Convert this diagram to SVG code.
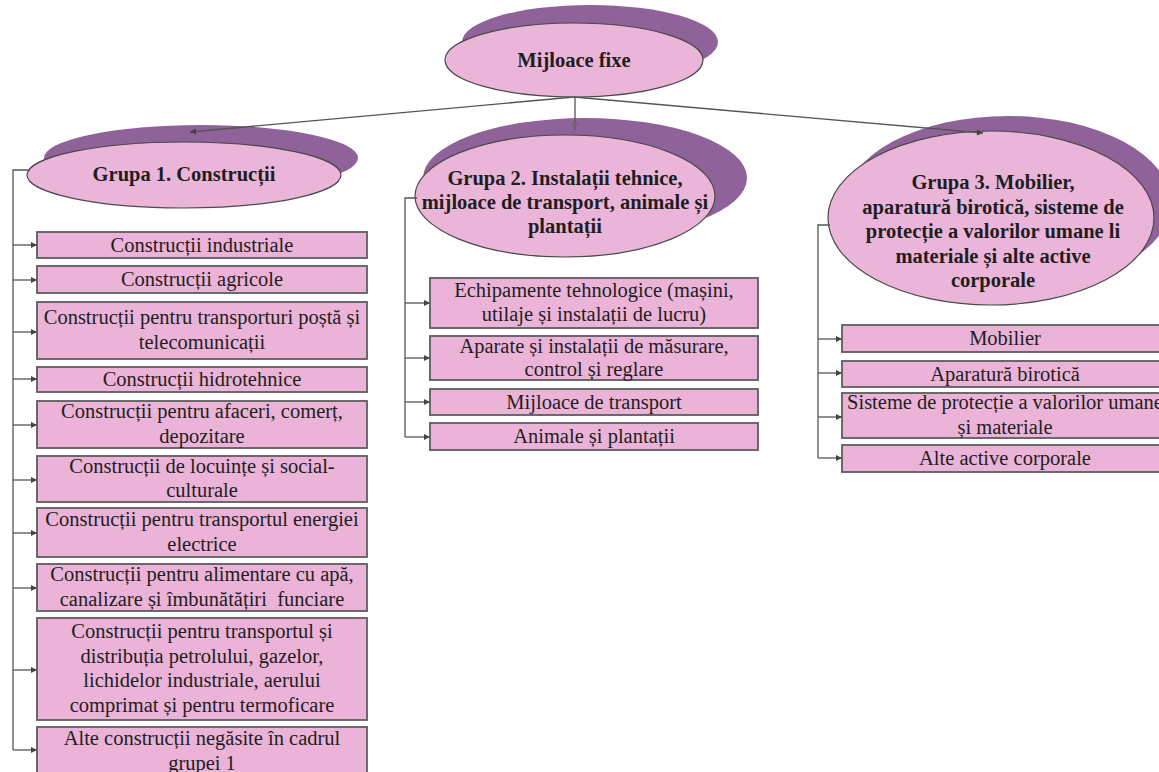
<svg xmlns="http://www.w3.org/2000/svg" width="1159" height="772" viewBox="0 0 1159 772">
<defs>
<style>
.shadow{fill:#8f6399}
.ell{fill:#ebb5d9;stroke:#4a4a4a;stroke-width:1.2}
.box{fill:#eab3d7;stroke:#5c5c5c;stroke-width:1.8}
.t{font-family:"Liberation Serif","Times New Roman",serif;font-size:20.5px;fill:#1e1e1e;text-anchor:middle}
.b{font-weight:bold}
.c{fill:none;stroke:#555;stroke-width:1.3}
</style>
<marker id="ah" viewBox="0 0 10 10" refX="10" refY="5" markerWidth="8" markerHeight="6" orient="auto" markerUnits="userSpaceOnUse"><path d="M0,0 L10,5 L0,10 z" fill="#444"/></marker>
<marker id="ahp" viewBox="0 0 10 10" refX="10" refY="5" markerWidth="8" markerHeight="7" orient="auto" markerUnits="userSpaceOnUse"><path d="M0,0 L10,5 L0,10 z" fill="#7a5a82"/></marker>
</defs>
<rect width="1159" height="772" fill="#ffffff"/>

<g id="root">
<ellipse class="shadow" cx="590" cy="42" rx="128" ry="37"/>
<ellipse class="ell" cx="574" cy="60" rx="129" ry="37"/>
<text class="t b" x="574" y="67">Mijloace fixe</text>
</g>

<g id="grupa1">
<ellipse class="shadow" cx="201" cy="158" rx="157" ry="33"/>
<ellipse class="ell" cx="184" cy="175" rx="157" ry="33"/>
<text class="t b" x="184" y="181">Grupa 1. Construcții</text>
</g>

<g id="grupa2">
<ellipse class="shadow" cx="585" cy="178" rx="162" ry="60"/>
<ellipse class="ell" cx="565" cy="196" rx="150" ry="61"/>
<text class="t b" x="565" y="185">Grupa 2. Instalații tehnice,</text>
<text class="t b" x="565" y="209">mijloace de transport, animale și</text>
<text class="t b" x="565" y="233">plantații</text>
</g>

<g id="grupa3">
<ellipse class="shadow" cx="1008" cy="203" rx="163" ry="87"/>
<ellipse class="ell" cx="991" cy="218" rx="163" ry="87"/>
<text class="t b" x="993" y="189">Grupa 3. Mobilier,</text>
<text class="t b" x="993" y="213.5">aparatură birotică, sisteme de</text>
<text class="t b" x="993" y="238">protecție a valorilor umane li</text>
<text class="t b" x="993" y="262.5">materiale și alte active</text>
<text class="t b" x="993" y="287">corporale</text>
</g>

<g id="g1b1"><rect class="box" x="37" y="232" width="330" height="26"/><text class="t" x="202" y="252">Construcții industriale</text></g>
<g id="g1b2"><rect class="box" x="37" y="266" width="330" height="27"/><text class="t" x="202" y="286">Construcții agricole</text></g>
<g id="g1b3"><rect class="box" x="37" y="302" width="330" height="57"/><text class="t" x="202" y="324">Construcții pentru transporturi poștă și</text><text class="t" x="202" y="349">telecomunicații</text></g>
<g id="g1b4"><rect class="box" x="37" y="367" width="330" height="25"/><text class="t" x="202" y="386">Construcții hidrotehnice</text></g>
<g id="g1b5"><rect class="box" x="37" y="401" width="330" height="47"/><text class="t" x="202" y="418">Construcții pentru afaceri, comerț,</text><text class="t" x="202" y="443">depozitare</text></g>
<g id="g1b6"><rect class="box" x="37" y="456" width="330" height="46"/><text class="t" x="202" y="473">Construcții de locuințe și social-</text><text class="t" x="202" y="497">culturale</text></g>
<g id="g1b7"><rect class="box" x="37" y="508" width="330" height="49"/><text class="t" x="202" y="526">Construcții pentru transportul energiei</text><text class="t" x="202" y="551">electrice</text></g>
<g id="g1b8"><rect class="box" x="37" y="564" width="330" height="47"/><text class="t" x="202" y="581">Construcții pentru alimentare cu apă,</text><text class="t" x="202" y="606" xml:space="preserve">canalizare și îmbunătățiri  funciare</text></g>
<g id="g1b9"><rect class="box" x="37" y="618" width="330" height="102"/><text class="t" x="202" y="638">Construcții pentru transportul și</text><text class="t" x="202" y="663">distribuția petrolului, gazelor,</text><text class="t" x="202" y="687">lichidelor industriale, aerului</text><text class="t" x="202" y="712">comprimat și pentru termoficare</text></g>
<g id="g1b10"><rect class="box" x="37" y="727" width="330" height="52"/><text class="t" x="202" y="745">Alte construcții negăsite în cadrul</text><text class="t" x="202" y="770">grupei 1</text></g>

<g id="g2b1"><rect class="box" x="430" y="278" width="328" height="50"/><text class="t" x="594" y="297">Echipamente tehnologice (mașini,</text><text class="t" x="594" y="321">utilaje și instalații de lucru)</text></g>
<g id="g2b2"><rect class="box" x="430" y="336" width="328" height="44"/><text class="t" x="594" y="353">Aparate și instalații de măsurare,</text><text class="t" x="594" y="376">control și reglare</text></g>
<g id="g2b3"><rect class="box" x="430" y="389" width="328" height="26"/><text class="t" x="594" y="409">Mijloace de transport</text></g>
<g id="g2b4"><rect class="box" x="430" y="423" width="328" height="27"/><text class="t" x="594" y="443">Animale și plantații</text></g>

<g id="g3b1"><rect class="box" x="842" y="325" width="326" height="27"/><text class="t" x="1005" y="345">Mobilier</text></g>
<g id="g3b2"><rect class="box" x="842" y="361" width="326" height="26"/><text class="t" x="1005" y="381">Aparatură birotică</text></g>
<g id="g3b3"><rect class="box" x="842" y="393" width="326" height="45"/><text class="t" x="1005" y="409">Sisteme de protecție a valorilor umane</text><text class="t" x="1005" y="434">și materiale</text></g>
<g id="g3b4"><rect class="box" x="842" y="445" width="326" height="27"/><text class="t" x="1005" y="465">Alte active corporale</text></g>

<g id="connectors">
<path class="c" d="M574,97 L190,132" marker-end="url(#ah)"/>
<path class="c" d="M575,97 L575,130" marker-end="url(#ahp)"/>
<path class="c" d="M574,97 L983,133" marker-end="url(#ah)"/>

<path class="c" d="M30,170 H13 V750"/>
<path class="c" d="M13,245 H37" marker-end="url(#ah)"/>
<path class="c" d="M13,280 H37" marker-end="url(#ah)"/>
<path class="c" d="M13,332 H37" marker-end="url(#ah)"/>
<path class="c" d="M13,379 H37" marker-end="url(#ah)"/>
<path class="c" d="M13,425 H37" marker-end="url(#ah)"/>
<path class="c" d="M13,480 H37" marker-end="url(#ah)"/>
<path class="c" d="M13,533 H37" marker-end="url(#ah)"/>
<path class="c" d="M13,588 H37" marker-end="url(#ah)"/>
<path class="c" d="M13,670 H37" marker-end="url(#ah)"/>
<path class="c" d="M13,750 H37" marker-end="url(#ah)"/>

<path class="c" d="M417,198 H405 V437"/>
<path class="c" d="M405,303 H430" marker-end="url(#ah)"/>
<path class="c" d="M405,358 H430" marker-end="url(#ah)"/>
<path class="c" d="M405,402 H430" marker-end="url(#ah)"/>
<path class="c" d="M405,437 H430" marker-end="url(#ah)"/>

<path class="c" d="M830,225 H818 V458"/>
<path class="c" d="M818,339 H842" marker-end="url(#ah)"/>
<path class="c" d="M818,373 H842" marker-end="url(#ah)"/>
<path class="c" d="M818,417 H842" marker-end="url(#ah)"/>
<path class="c" d="M818,458 H842" marker-end="url(#ah)"/>
</g>
</svg>
